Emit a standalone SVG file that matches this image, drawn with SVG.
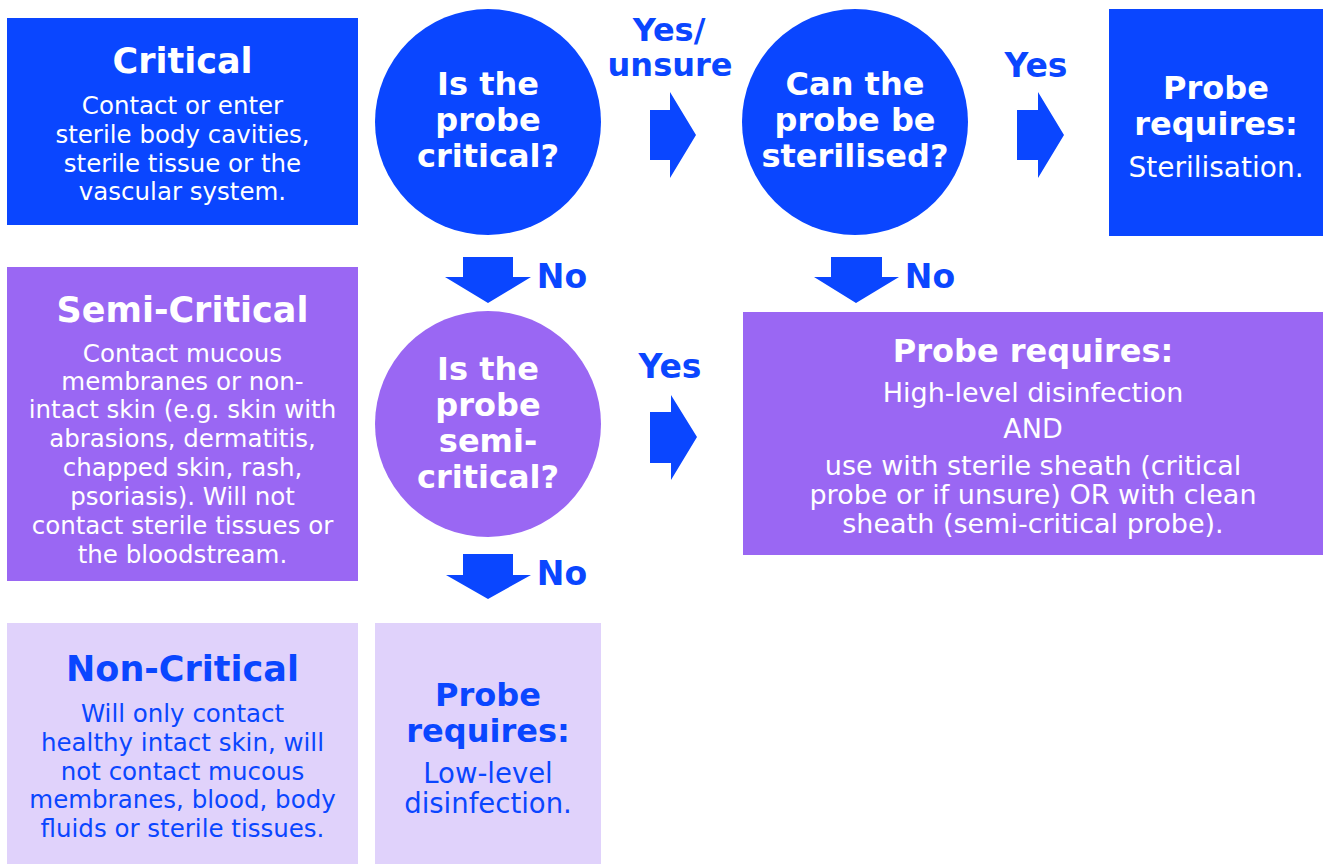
<svg xmlns="http://www.w3.org/2000/svg" width="1324" height="864" viewBox="0 0 1324 864">
<style>
text{font-family:"DejaVu Sans","Liberation Sans",sans-serif;text-anchor:middle}
.blue{fill:#0A46FF}
.purple{fill:#9A67F3}
.lav{fill:#E0D2FB}
.h{font-weight:700;font-size:35px}
.q{font-weight:700;font-size:32px}
.p2{font-weight:700;font-size:32px}
.b{font-size:24.5px}
.b2{font-size:27px}
.b3{font-size:28px}
.b4{font-size:27.5px}
.w{fill:#fff}
.t{fill:#0A46FF}
.lbl{font-weight:700;font-size:33px;fill:#0A46FF}
.lbl2{font-weight:700;font-size:32px;fill:#0A46FF}
.arr{fill:#0A46FF}
</style>
<rect width="1324" height="864" fill="#fff"/>

<g id="critical">
<rect class="blue" x="7" y="18" width="351" height="207"/>
<text class="h w" x="182.5" y="73">Critical</text>
<text class="b w" x="182.5" y="114">Contact or enter</text>
<text class="b w" x="182.5" y="143">sterile body cavities,</text>
<text class="b w" x="182.5" y="172">sterile tissue or the</text>
<text class="b w" x="182.5" y="200">vascular system.</text>
</g>

<g id="q-critical">
<circle class="blue" cx="488" cy="122" r="113"/>
<text class="q w" x="488" y="95">Is the</text>
<text class="q w" x="488" y="131">probe</text>
<text class="q w" x="488" y="167">critical?</text>
</g>

<g id="q-sterilised">
<circle class="blue" cx="855" cy="122" r="113"/>
<text class="q w" x="855" y="95">Can the</text>
<text class="q w" x="855" y="131">probe be</text>
<text class="q w" x="855" y="167">sterilised?</text>
</g>

<g id="sterilisation">
<rect class="blue" x="1109" y="9" width="214" height="227"/>
<text class="p2 w" x="1216" y="99">Probe</text>
<text class="p2 w" x="1216" y="135">requires:</text>
<text class="b3 w" x="1216" y="177">Sterilisation.</text>
</g>

<g id="semi-critical">
<rect class="purple" x="7" y="267" width="351" height="314"/>
<text class="h w" x="182.5" y="322">Semi-Critical</text>
<text class="b w" x="182.5" y="362">Contact mucous</text>
<text class="b w" x="182.5" y="390">membranes or non-</text>
<text class="b w" x="182.5" y="418">intact skin (e.g. skin with</text>
<text class="b w" x="182.5" y="447">abrasions, dermatitis,</text>
<text class="b w" x="182.5" y="476">chapped skin, rash,</text>
<text class="b w" x="182.5" y="505">psoriasis). Will not</text>
<text class="b w" x="182.5" y="534">contact sterile tissues or</text>
<text class="b w" x="182.5" y="563">the bloodstream.</text>
</g>

<g id="q-semi-critical">
<circle class="purple" cx="488" cy="424" r="113"/>
<text class="q w" x="488" y="380">Is the</text>
<text class="q w" x="488" y="416">probe</text>
<text class="q w" x="488" y="452">semi-</text>
<text class="q w" x="488" y="488">critical?</text>
</g>

<g id="high-level">
<rect class="purple" x="743" y="312" width="580" height="243"/>
<text class="q w" x="1033" y="362">Probe requires:</text>
<text class="b2 w" x="1033" y="402">High-level disinfection</text>
<text class="b2 w" x="1033" y="438">AND</text>
<text class="b2 w" x="1033" y="475">use with sterile sheath (critical</text>
<text class="b2 w" x="1033" y="504">probe or if unsure) OR with clean</text>
<text class="b2 w" x="1033" y="533">sheath (semi-critical probe).</text>
</g>

<g id="non-critical">
<rect class="lav" x="7" y="623" width="351" height="241"/>
<text class="h t" x="182.5" y="681">Non-Critical</text>
<text class="b t" x="182.5" y="722">Will only contact</text>
<text class="b t" x="182.5" y="751">healthy intact skin, will</text>
<text class="b t" x="182.5" y="780">not contact mucous</text>
<text class="b t" x="182.5" y="808">membranes, blood, body</text>
<text class="b t" x="182.5" y="837">fluids or sterile tissues.</text>
</g>

<g id="low-level">
<rect class="lav" x="375" y="623" width="226" height="241"/>
<text class="p2 t" x="488" y="706">Probe</text>
<text class="p2 t" x="488" y="742">requires:</text>
<text class="b4 t" x="488" y="783">Low-level</text>
<text class="b4 t" x="488" y="813">disinfection.</text>
</g>

<g id="connectors">
<polygon class="arr" points="650,110 670,110 670,92 696,135 670,178 670,160 650,160"/>
<polygon class="arr" points="1017,110 1038,110 1038,92 1064,135 1038,178 1038,160 1017,160"/>
<polygon class="arr" points="650,412 671,412 671,395 697,437 671,480 671,463 650,463"/>
<polygon class="arr" points="463,257 513,257 513,277 531,277 488,303 445,277 463,277"/>
<polygon class="arr" points="831,257 882,257 882,277 899,277 856,303 814,277 831,277"/>
<polygon class="arr" points="463,554 513,554 513,575 531,575 488,599 446,575 463,575"/>
<text class="lbl2" x="669" y="41">Yes/</text>
<text class="lbl2" x="670" y="76">unsure</text>
<text class="lbl" x="1036" y="77">Yes</text>
<text class="lbl" x="670" y="378">Yes</text>
<text class="lbl" x="562" y="288">No</text>
<text class="lbl" x="930" y="288">No</text>
<text class="lbl" x="562" y="585">No</text>
</g>
</svg>
